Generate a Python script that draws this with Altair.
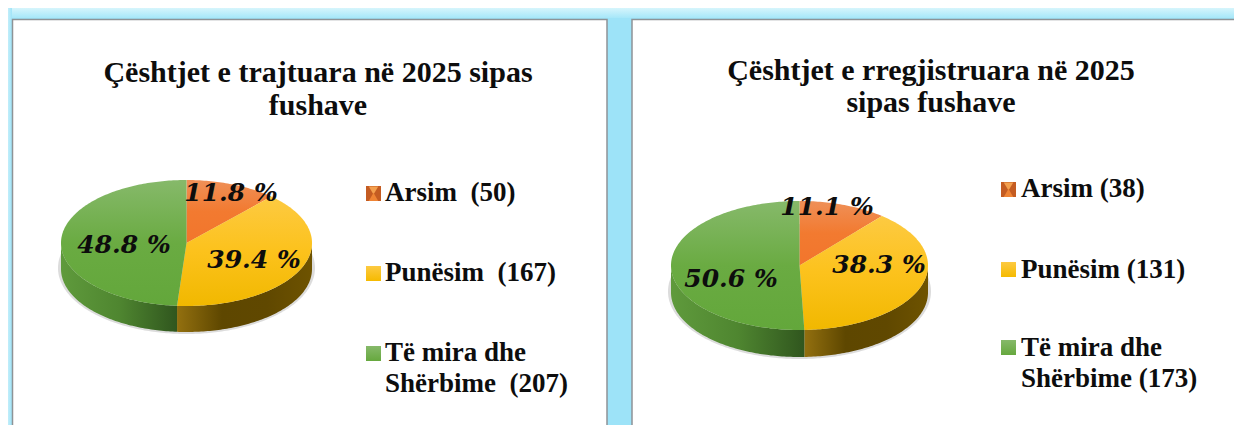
import math
import altair as alt
import pandas as pd

# ---- data ----
fields_left = ["Arsim", "Punësim", "Të mira dhe Shërbime"]
shares_left = [11.8, 39.4, 48.8]
counts_left = [50, 167, 207]
shares_right = [11.1, 38.3, 50.6]
counts_right = [38, 131, 173]
title_left = ["Çështjet e trajtuara në 2025 sipas", "fushave"]
title_right = ["Çështjet e rregjistruara në 2025", "sipas fushave"]
legend_left = ["Arsim\u00a0\u00a0(50)", "Punësim\u00a0\u00a0(167)", "Të mira dhe", "Shërbime\u00a0\u00a0(207)"]
legend_right = ["Arsim (38)", "Punësim (131)", "Të mira dhe", "Shërbime (173)"]

# ---- layout and styles (page pixels, the chart starts at 8,8) ----
OFF = 8
W, H = 1226, 417
SERIF = "Liberation Serif"
LABEL_FONT = "DejaVu Serif"
PIE_L = dict(cx=186.5, cy=243, rx=125.5, ry=63, d=26)
PIE_R = dict(cx=799.5, cy=265.5, rx=128.5, ry=64.5, d=27)
LABELS_L = [(231, 193), (254, 260), (124, 245)]
LABELS_R = [(827, 207), (879, 265), (731, 279)]
TOP_STOPS = [("#ef9058", "#f27a30", "#f2752c"), ("#fdca42", "#fcc21c", "#f1b800"), ("#86b96a", "#6aab42", "#63a73b")]
SWATCH = [("#f29a50", "#e0702a"), ("#fdca42", "#f5ba00"), ("#86b96a", "#66a83e")]


def grad(stops, horizontal=False):
    n = len(stops) - 1
    return alt.Gradient(
        gradient="linear",
        stops=[alt.GradientStop(color=c, offset=i / n) for i, c in enumerate(stops)],
        x1=0, y1=0,
        x2=1 if horizontal else 0,
        y2=0 if horizontal else 1,
    )


def pt(p, deg, dy=0.0):
    t = math.radians(deg)
    return [p["cx"] + p["rx"] * math.sin(t) - OFF, p["cy"] - p["ry"] * math.cos(t) + dy - OFF]


def shape(ring, **mark):
    fc = {"type": "FeatureCollection", "features": [
        {"type": "Feature", "properties": {}, "geometry": {"type": "Polygon", "coordinates": [ring + [ring[0]]]}}
    ]}
    return alt.Chart(alt.InlineData(values=fc, format=alt.DataFormat(property="features", type="json"))).mark_geoshape(
        strokeWidth=0, **mark
    ).project(type="identity", scale=1, translate=[0, 0])


def arc_pts(p, a, b, dy=0.0):
    n = max(2, int(abs(b - a)))
    return [pt(p, a + (b - a) * i / n, dy) for i in range(n + 1)]


def pie(p, shares):
    ends = []
    s = 0.0
    for v in shares:
        ends.append((s * 3.6, (s + v) * 3.6))
        s += v
    layers = []
    # soft shadow
    sh = dict(p, rx=p["rx"] + 3, ry=p["ry"] + 3)
    layers.append(shape(arc_pts(sh, 0, 360, p["d"] - 1), fill="#9a9a9a", opacity=0.35))
    # side wall, front half only
    a1, b1 = ends[1]
    a2, b2 = ends[2]
    wy = arc_pts(p, max(a1, 90), min(b1, 270))
    wg = arc_pts(p, max(a2, 90), min(b2, 270))
    layers.append(shape(wy + arc_pts(p, min(b1, 270), max(a1, 90), p["d"]),
                        fill=grad(["#93700f", "#5e4700", "#604800", "#6e5300"], True)))
    layers.append(shape(wg + arc_pts(p, min(b2, 270), max(a2, 90), p["d"]),
                        fill=grad(["#5f9a3c", "#4f8630", "#30561e"], True)))
    # top faces
    centre = [p["cx"] - OFF, p["cy"] - OFF]
    for (a, b), stops in zip(ends, TOP_STOPS):
        layers.append(shape([centre] + arc_pts(p, a, b), fill=grad(list(stops))))
    return layers


def rect(x0, y0, x1, y1, **mark):
    df = pd.DataFrame({"x": [x0 - OFF], "x2": [x1 - OFF], "y": [y0 - OFF], "y2": [y1 - OFF]})
    return alt.Chart(df).mark_rect(**mark).encode(
        x=alt.X("x:Q", scale=None), x2="x2:Q", y=alt.Y("y:Q", scale=None), y2="y2:Q"
    )


def text(items, font, size, italic=False, align="center"):
    df = pd.DataFrame([{"t": t, "x": x - OFF, "y": y - OFF} for t, x, y in items])
    return alt.Chart(df).mark_text(
        font=font, fontSize=size, fontWeight="bold", fontStyle="italic" if italic else "normal",
        align=align, baseline="middle", color="#0d0d0d",
    ).encode(x=alt.X("x:Q", scale=None), y=alt.Y("y:Q", scale=None), text="t:N")


def swatches(xs, ys, size):
    out = [rect(xs, ys[0], xs + size, ys[0] + size, fill="#c45c22")]
    for y, (c0, c1) in list(zip(ys, SWATCH))[1:]:
        out.append(rect(xs, y, xs + size, y + size, fill=grad([c0, c1])))
    m = size / 2
    df = pd.DataFrame({"x": [xs + m - OFF], "y": [ys[0] + size * 0.3 - OFF], "y3": [ys[0] + size * 0.72 - OFF]})
    out.append(alt.Chart(df).mark_point(shape="triangle-down", filled=True, size=size * 6, color="#f4a04e", opacity=1).encode(
        x=alt.X("x:Q", scale=None), y=alt.Y("y:Q", scale=None)))
    out.append(alt.Chart(df).mark_point(shape="triangle-up", filled=True, size=size * 6, color="#ef8434", opacity=1).encode(
        x=alt.X("x:Q", scale=None), y=alt.Y("y3:Q", scale=None)))
    return out


layers = [
    rect(OFF, OFF, 1242, 425, fill="#9de3f8"),
    rect(OFF, OFF, 1242, 18, fill=grad(["#d6f5fc", "#a6e7f9"])),
    rect(OFF, OFF, 12, 425, fill=grad(["#c2eefa", "#a0e4f8"], True)),
    rect(12.5, 19.5, 607, 440, fill="white", stroke="#8e9396", strokeWidth=1.5),
    rect(632, 19.5, 1260, 440, fill="white", stroke="#8e9396", strokeWidth=1.5),
]
layers += pie(PIE_L, shares_left) + pie(PIE_R, shares_right)
layers += [
    text([(f"{v} %", x, y) for v, (x, y) in zip(shares_left, LABELS_L)], LABEL_FONT, 25, italic=True),
    text([(f"{v} %", x, y) for v, (x, y) in zip(shares_right, LABELS_R)], LABEL_FONT, 25, italic=True),
    text([(title_left[0], 318, 73), (title_left[1], 318, 106)], SERIF, 30),
    text([(title_right[0], 931, 71), (title_right[1], 931, 103)], SERIF, 30),
    text(list(zip(legend_left, [385] * 4, [193, 273, 353, 384])), SERIF, 27, align="left"),
    text(list(zip(legend_right, [1021] * 4, [189, 270, 348, 379])), SERIF, 27, align="left"),
]
layers += swatches(366, [186, 266, 346], 15) + swatches(1001, [182, 262, 340], 15)

chart = alt.layer(*layers).properties(
    width=W, height=H, padding=0, autosize=alt.AutoSizeParams(type="none"), background="white"
).configure_view(stroke=None)

chart.save("out.html", embed_options={"renderer": "svg", "actions": False})
